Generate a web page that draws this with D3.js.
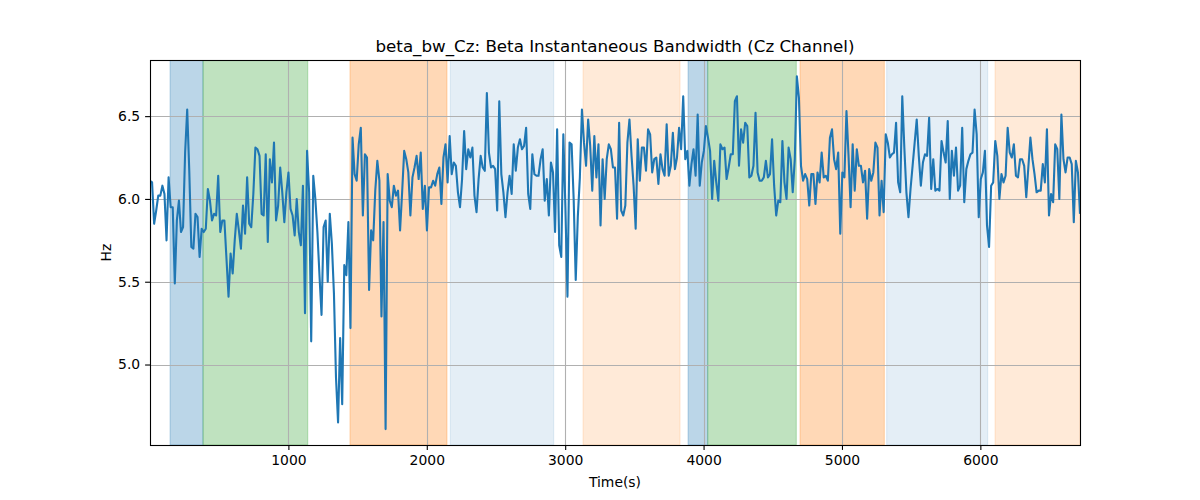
<!DOCTYPE html>
<meta charset="utf-8">
<style>
body { margin: 0; background: #fff; }
text { font-family: "DejaVu Sans", sans-serif; fill: #000; }
</style>
<svg width="1200" height="500"></svg>
<script src="https://d3js.org/d3.v7.min.js"></script>
<script>

// beta instantaneous bandwidth, Cz channel (Hz), evenly sampled from tStart to tEnd
var bw = [
  6.11,6.10,5.85,5.93,6.02,6.02,6.08,6.03,5.75,6.13,5.95,5.95,5.49,5.87,5.99,5.80,5.83,6.28,6.54,6.17,
  5.71,5.70,5.91,5.89,5.65,5.82,5.80,5.82,6.06,5.99,5.87,5.91,5.90,6.14,5.80,5.87,5.87,5.64,5.41,5.67,
  5.55,5.75,5.91,5.81,5.70,5.96,5.79,6.13,5.85,5.83,6.03,6.31,6.30,6.26,5.91,5.90,6.27,
  5.74,6.24,6.10,6.34,5.87,5.96,6.19,6.04,5.86,6.04,6.16,5.94,5.90,5.78,6.00,5.80,5.72,6.08,5.31,6.29,
  6.04,5.14,6.14,6.00,5.80,5.54,5.30,5.83,5.87,5.50,5.91,5.73,5.43,4.92,4.65,5.16,4.76,5.60,5.54,5.86,
  5.22,6.37,6.15,6.11,6.33,6.43,5.90,6.27,6.25,5.45,5.81,5.75,6.05,6.23,6.11,5.29,5.86,
  4.61,6.15,5.99,5.95,6.08,6.02,6.05,5.81,6.04,6.29,6.24,6.16,5.90,6.13,6.19,6.26,6.12,6.28,5.94,6.08,
  5.81,6.07,6.07,6.11,6.08,6.15,6.19,5.97,6.25,6.33,6.10,6.38,6.15,6.22,6.20,6.04,5.95,6.12,6.41,6.18,
  6.30,6.25,6.31,6.02,5.92,6.12,6.26,6.19,6.17,6.64,6.28,6.19,6.20,6.18,5.93,6.59,
  6.15,6.04,5.89,6.04,6.14,6.03,6.33,6.17,6.31,6.36,6.30,6.32,6.43,6.03,5.94,6.27,6.15,6.14,6.14,6.24,
  6.30,5.99,6.12,5.90,6.22,6.16,5.80,6.42,5.72,5.65,6.39,5.95,5.41,6.34,6.33,6.00,5.51,5.89,6.13,6.54,
  6.34,6.20,6.48,6.32,6.05,6.38,6.13,6.33,5.84,6.24,6.00,6.24,6.33,6.30,6.19,6.19,
  5.88,6.46,5.93,5.90,5.96,6.34,6.48,6.26,6.08,5.82,6.36,6.11,6.31,6.31,6.17,6.42,6.39,6.16,6.24,6.25,
  6.09,6.27,6.18,6.14,6.45,6.14,6.20,6.40,6.18,6.25,6.43,6.30,6.62,6.24,6.29,6.08,6.21,6.30,6.14,6.51,
  6.08,6.22,6.29,6.44,6.37,6.29,6.00,6.23,6.10,5.99,6.33,6.30,6.31,6.12,6.19,6.27,
  6.27,6.59,6.62,6.20,6.42,6.34,6.46,6.44,6.13,6.14,6.20,6.52,6.16,6.11,6.11,6.13,6.23,6.13,6.15,6.36,
  6.08,5.90,5.99,5.98,6.35,6.10,6.00,6.31,6.24,6.04,6.24,6.74,6.61,6.20,6.11,6.15,6.12,5.96,6.15,6.15,
  5.97,6.16,6.10,6.28,6.13,6.14,6.11,6.37,6.42,6.24,6.18,6.28,5.79,6.16,6.13,6.53,6.26,5.95,6.33,
  6.05,6.30,6.20,6.20,6.10,6.17,5.88,6.18,6.11,6.16,6.34,6.31,5.90,6.11,5.92,6.39,6.34,6.25,6.27,6.28,
  6.46,6.10,6.04,6.62,6.31,6.04,5.89,6.06,6.20,6.34,6.48,6.26,6.08,6.22,6.27,6.26,6.49,6.06,6.24,6.05,
  6.06,6.05,6.35,6.28,6.22,6.47,6.00,6.29,6.14,6.31,6.05,6.08,6.43,5.98,6.18,6.23,
  6.27,6.28,6.54,6.39,5.89,6.12,6.16,6.29,5.84,5.71,6.08,6.10,6.35,6.26,6.00,6.15,6.10,6.14,6.43,6.28,
  6.25,6.33,6.14,6.13,6.24,6.24,6.20,6.01,6.19,6.37,6.24,6.15,6.04,6.05,6.05,6.21,6.10,6.42,5.90,6.03,
  5.98,6.33,6.30,6.00,6.51,6.24,6.16,6.25,6.25,6.21,5.86,6.23,6.16,5.91
];
var tStart = 0, tEnd = 6720;

// shaded episodes
var bandStart = [145, 383, 1445, 2170, 3129, 3888, 4030, 4697, 5323, 6106],
    bandEnd   = [383, 1140, 2146, 2917, 3830, 4030, 4670, 5306, 6053, 6720],
    bandKind  = ["blue", "green", "orange", "paleblue", "paleorange",
                 "blue", "green", "orange", "paleblue", "paleorange"];

var xTicks = [1000, 2000, 3000, 4000, 5000, 6000],
    yTicks = [5.0, 5.5, 6.0, 6.5];

var kindColor = {blue: "#1f77b4", green: "#2ca02c", orange: "#ff7f0e", paleblue: "#1f77b4", paleorange: "#ff7f0e"},
    kindAlpha = {blue: 0.3, green: 0.3, orange: 0.3, paleblue: 0.12, paleorange: 0.16};

var svg = d3.select("svg"),
    marginLeft = 150, marginTop = 60,
    width = 930, height = 385;

var x = d3.scaleLinear().domain([tStart, tEnd]).range([0, width]),
    y = d3.scaleLinear().domain([4.514, 6.839]).range([height, 0]);

var step = (tEnd - tStart) / (bw.length - 1);

svg.append("defs").append("clipPath").attr("id", "clip")
  .append("rect").attr("width", width).attr("height", height);

var g = svg.append("g").attr("transform", "translate(" + marginLeft + "," + marginTop + ")");

g.append("g").attr("clip-path", "url(#clip)")
  .selectAll("rect")
  .data(d3.range(bandStart.length))
  .enter().append("rect")
    .attr("x", function(i) { return x(bandStart[i]); })
    .attr("width", function(i) { return x(bandEnd[i]) - x(bandStart[i]); })
    .attr("y", 0)
    .attr("height", height)
    .attr("fill", function(i) { return kindColor[bandKind[i]]; })
    .attr("fill-opacity", function(i) { return kindAlpha[bandKind[i]]; })
    .attr("stroke", function(i) { return kindColor[bandKind[i]]; })
    .attr("stroke-opacity", function(i) { return kindAlpha[bandKind[i]]; })
    .attr("stroke-width", 1);

// grid
g.append("g").selectAll("line").data(xTicks).enter().append("line")
    .attr("x1", function(d) { return Math.round(x(d)) + 0.5; })
    .attr("x2", function(d) { return Math.round(x(d)) + 0.5; })
    .attr("y1", 0).attr("y2", height)
    .attr("stroke", "#b0b0b0").attr("stroke-width", 1.1);
g.append("g").selectAll("line").data(yTicks).enter().append("line")
    .attr("y1", function(d) { return Math.round(y(d)) + 0.5; })
    .attr("y2", function(d) { return Math.round(y(d)) + 0.5; })
    .attr("x1", 0).attr("x2", width)
    .attr("stroke", "#b0b0b0").attr("stroke-width", 1.1);

var line = d3.line()
    .x(function(d, i) { return x(tStart + i * step); })
    .y(function(d) { return y(d); });

g.append("path")
    .datum(bw)
    .attr("clip-path", "url(#clip)")
    .attr("fill", "none")
    .attr("stroke", "#1f77b4")
    .attr("stroke-width", 2.1)
    .attr("stroke-linejoin", "round")
    .attr("stroke-linecap", "butt")
    .attr("d", line);

// axes
var xAxis = g.append("g")
    .attr("transform", "translate(0," + height + ")")
    .call(d3.axisBottom(x).tickValues(xTicks).tickFormat(d3.format("d")).tickSize(4.9).tickPadding(4.9).tickSizeOuter(0));

var yAxis = g.append("g")
    .call(d3.axisLeft(y).tickValues(yTicks).tickFormat(d3.format(".1f")).tickSize(4.9).tickPadding(4.9).tickSizeOuter(0));

[xAxis, yAxis].forEach(function(a) {
  a.select(".domain").remove();
  a.selectAll("line").attr("stroke", "#000").attr("stroke-width", 1.1);
  a.selectAll("text").attr("font-family", "DejaVu Sans, sans-serif").attr("font-size", 13.9).attr("fill", "#000");
});

g.append("rect")
    .attr("x", 0.5).attr("y", 0.5)
    .attr("width", width).attr("height", height)
    .attr("fill", "none").attr("stroke", "#000").attr("stroke-width", 1.1);

svg.append("text")
    .attr("x", marginLeft + width / 2).attr("y", 52)
    .attr("text-anchor", "middle")
    .attr("font-size", 16.7)
    .text("beta_bw_Cz: Beta Instantaneous Bandwidth (Cz Channel)");

svg.append("text")
    .attr("x", marginLeft + width / 2).attr("y", 487)
    .attr("text-anchor", "middle")
    .attr("font-size", 13.9)
    .text("Time(s)");

svg.append("text")
    .attr("transform", "translate(111," + (marginTop + height / 2) + ") rotate(-90)")
    .attr("text-anchor", "middle")
    .attr("font-size", 13.9)
    .text("Hz");

</script>
